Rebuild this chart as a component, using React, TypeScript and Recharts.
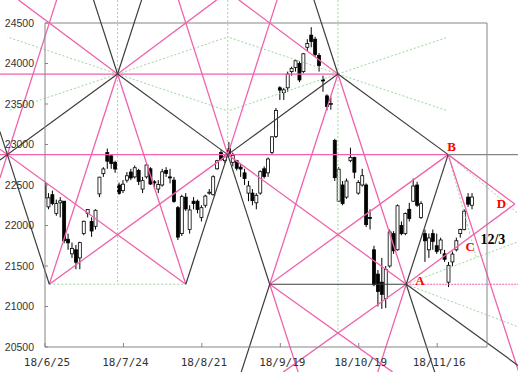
import { ComposedChart, Bar, XAxis, YAxis, ReferenceLine, ReferenceDot } from "recharts";

type Pt = [number, number];

// x axis = trading-day index counted from 18/6/25
const tickIdx = [0, 20, 40, 60, 80, 100];
const tickLabels = ["18/6/25", "18/7/24", "18/8/21", "18/9/19", "18/10/19", "18/11/16"];
const priceTicks = [20500, 21000, 21500, 22000, 22500, 23000, 23500, 24000, 24500];

const opens = [
  22520, 22230, 22380, 22150, 22280, 22300, 21830, 21650, 21700, 21600,
  21900, 22150, 22050, 21990, 22390, 22640, 22900, 22860, 22780, 22500,
  22430, 22560, 22660, 22600, 22680, 22450, 22600, 22700, 22540, 22450,
  22500, 22680, 22600, 22560, 22220, 21900, 22350, 21950, 22300, 22300,
  22100, 22250, 22400, 22380, 22700, 22900, 22800, 22950, 22780, 22800,
  22720, 22650, 22400, 22400, 22280, 22400, 22700, 22650, 22900, 23100,
  23700, 23640, 23700, 23900, 23950, 24000, 23900, 24200, 24350, 24300,
  24100, 23800, 23600, 23500, 23050, 22300, 22500, 22350, 22800, 22840,
  22400, 22500, 22500, 22100, 21700, 21400, 21300, 21100, 21500, 21900,
  21700, 22000, 21900, 22200, 22300, 22500, 22100, 21900, 21700, 21900,
  21750, 21700, 21650, 21300, 21550, 21700, 21900, 21950, 22350, 22250,
];
const highs = [
  22560, 22400, 22430, 22320, 22350, 22300, 21900, 21790, 21760, 21800,
  22060, 22200, 22100, 22200, 22600, 22720, 22950, 22880, 22800, 22530,
  22560, 22660, 22700, 22740, 22700, 22600, 22770, 22720, 22560, 22560,
  22700, 22720, 22700, 22600, 22240, 22380, 22400, 22250, 22350, 22320,
  22250, 22380, 22450, 22620, 22810, 22930, 22880, 23030, 22900, 22810,
  22760, 22700, 22550, 22450, 22400, 22680, 22730, 22840, 23100, 23450,
  23720, 23700, 23900, 23960, 24050, 24030, 24130, 24300, 24448, 24330,
  24130, 23850, 23620, 23590, 23070, 22720, 22550, 22580, 22960, 22850,
  22560, 22700, 22520, 22200, 21750, 21450, 21600, 21500, 21950, 21930,
  22260, 22050, 22160, 22280, 22580, 22540, 22300, 21950, 21900, 21950,
  21900, 21850, 21700, 21550, 21680, 21850, 21960, 22200, 22400, 22400,
];
const lows = [
  22320, 22200, 22250, 22120, 22100, 21780, 21700, 21600, 21460, 21460,
  21880, 22100, 21860, 21950, 22350, 22600, 22700, 22700, 22650, 22380,
  22400, 22530, 22560, 22580, 22500, 22400, 22580, 22500, 22450, 22400,
  22480, 22600, 22520, 22280, 21820, 21870, 22180, 21900, 22200, 22150,
  22050, 22220, 22380, 22370, 22690, 22800, 22770, 22850, 22730, 22680,
  22600, 22500, 22300, 22250, 22200, 22380, 22580, 22600, 22870, 23080,
  23550, 23550, 23650, 23850, 23900, 23770, 23880, 24150, 24200, 24080,
  23900, 23650, 23420, 23430, 22550, 22290, 22250, 22330, 22780, 22580,
  22380, 22480, 21980, 21950, 21250, 21000, 20970, 20980, 21480, 21650,
  21690, 21880, 21880, 22050, 22290, 22230, 22080, 21550, 21600, 21700,
  21650, 21650, 21550, 21240, 21500, 21680, 21850, 21940, 22230, 22200,
];
const closes = [
  22338, 22342, 22272, 22270, 22305, 21812, 21786, 21717, 21547, 21788,
  22052, 22197, 21932, 22188, 22597, 22698, 22794, 22765, 22697, 22397,
  22510, 22614, 22587, 22713, 22545, 22554, 22747, 22512, 22525, 22507,
  22663, 22644, 22598, 22298, 21857, 22356, 22204, 22192, 22270, 22199,
  22220, 22363, 22411, 22602, 22800, 22813, 22848, 22870, 22865, 22707,
  22697, 22581, 22488, 22307, 22373, 22665, 22605, 22821, 23095, 23420,
  23672, 23675, 23870, 23940, 24034, 23797, 24120, 24246, 24271, 24111,
  23976, 23784, 23469, 23506, 22591, 22695, 22271, 22549, 22841, 22658,
  22532, 22615, 22011, 22091, 21269, 21185, 21150, 21457, 21920, 21688,
  22244, 21899, 22148, 22086, 22487, 22250, 22270, 21811, 21846, 21804,
  21680, 21821, 21583, 21508, 21647, 21812, 21952, 22177, 22263, 22351,
];

// pivots of the drawn hexagon figure (day index, price)
const T1L: Pt = [1.1, 24500];
const T1R: Pt = [35.9, 24500];
const T2L: Pt = [57.3, 24500];
const C1: Pt = [18.5, 23870];
const C2: Pt = [74.7, 23870];
const P1: Pt = [-9.6, 22875];
const P3: Pt = [46.6, 22875];
const B: Pt = [102.8, 22875];
const B1L: Pt = [1.1, 21275];
const B1R: Pt = [35.9, 21275];
const B2L: Pt = [57.3, 21275];
const A: Pt = [92.1, 21275];
const L2: Pt = [74.7, 20673];
const D: Pt = [119.8, 22265];
const C_DAY = 110; // 12/3
const UPPER_STAR = 24327;
const LOWER_STAR = 23414;

// where the picture ends, in data units
const EDGE_LEFT = -11.5;
const EDGE_RIGHT = 120.6;
const EDGE_TOP = 24785;
const EDGE_BOTTOM = 20190;

const PINK = "#f062ac";
const INK = "#3c3c3c";
const FRAME = "#858585";
const GREEN = "#9fd49f";

const atPrice = (a: Pt, b: Pt, price: number): Pt => {
  const t = (price - a[1]) / (b[1] - a[1]);
  return [a[0] + t * (b[0] - a[0]), price];
};
const atIdx = (a: Pt, b: Pt, idx: number): Pt => {
  const t = (idx - a[0]) / (b[0] - a[0]);
  return [idx, a[1] + t * (b[1] - a[1])];
};

const bDown: Pt = [B[0] + A[0] - C2[0], B[1] + A[1] - C2[1]];
const C_PT = atIdx(A, D, C_DAY);

const pinkLines: [Pt, Pt][] = [
  [[EDGE_LEFT, C1[1]], C2],
  [[EDGE_LEFT, P1[1]], B],
  [B1L, C1],
  [B1R, C1],
  [B1L, P3],
  [B1R, atIdx(B1R, P1, EDGE_LEFT)],
  [atIdx(T1L, P1, EDGE_LEFT), atPrice(P1, T1L, EDGE_TOP)],
  [P3, atPrice(P3, T1R, EDGE_TOP)],
  [P3, atPrice(P3, T2L, EDGE_TOP)],
  [C1, atPrice(C1, T1L, EDGE_TOP)],
  [C1, atPrice(C1, T1R, EDGE_TOP)],
  [C2, atPrice(C2, T2L, EDGE_TOP)],
  [C2, B2L],
  [C2, A],
  [B2L, B],
  [A, P3],
  [B2L, atPrice(B2L, L2, EDGE_BOTTOM)],
  [A, atPrice(A, L2, EDGE_BOTTOM)],
  [A, atPrice(B, A, EDGE_BOTTOM)],
  [B2L, atPrice(P3, B2L, EDGE_BOTTOM)],
  [B, D],
  [A, D],
  [B, atPrice(B, bDown, EDGE_BOTTOM)],
];

const blackLines: [Pt, Pt][] = [
  [atIdx(C1, P1, EDGE_LEFT), C1],
  [C1, P3],
  [P3, C2],
  [C2, B],
  [atIdx(B1L, P1, EDGE_LEFT), B1L],
  [B1R, P3],
  [P3, B2L],
  [B, A],
  [C1, atPrice(B1L, C1, EDGE_TOP)],
  [C1, atPrice(B1R, C1, EDGE_TOP)],
  [C2, atPrice(A, C2, EDGE_TOP)],
  [B2L, atPrice(C2, B2L, EDGE_BOTTOM)],
  [A, atPrice(C2, A, EDGE_BOTTOM)],
  [A, atIdx(P3, A, EDGE_RIGHT)],
  [B2L, A],
];

const greenLines: [Pt, Pt][] = [
  [B1L, B1R],
  [[C1[0], EDGE_TOP], [C1[0], B1L[1]]],
  [[C2[0], EDGE_TOP], [C2[0], L2[1]]],
  [[P3[0], EDGE_TOP], P3],
  [C1, [P1[0], UPPER_STAR]],
  [C1, [P3[0], UPPER_STAR]],
  [C2, [P3[0], UPPER_STAR]],
  [C2, [B[0], UPPER_STAR]],
  [C1, [P1[0], LOWER_STAR]],
  [C1, [P3[0], LOWER_STAR]],
  [C2, [P3[0], LOWER_STAR]],
  [C2, [B[0], LOWER_STAR]],
  [A, [EDGE_RIGHT, 21800]],
  [A, [EDGE_RIGHT, 20750]],
  [B, [EDGE_RIGHT, 22150]],
  [B, [110, 21600]],
];

const candles = opens.map((o, i) => ({
  i,
  o,
  h: highs[i],
  l: lows[i],
  c: closes[i],
  range: [lows[i], highs[i]],
}));

const Candle = (props: any) => {
  const { x, y, width, height, payload } = props;
  const { o, h, l, c } = payload;
  const toY = (v: number) => y + ((h - v) / (h - l)) * height;
  const mid = x + width / 2;
  const top = toY(Math.max(o, c));
  const bot = toY(Math.min(o, c));
  return (
    <g>
      <line x1={mid} x2={mid} y1={y} y2={y + height} stroke="#000" strokeWidth={1} />
      <rect
        x={x}
        y={top}
        width={width}
        height={Math.max(bot - top, 1)}
        fill={c >= o ? "#fff" : "#000"}
        stroke="#000"
        strokeWidth={0.8}
      />
    </g>
  );
};

const XTick = (props: any) => {
  const { x, y, payload } = props;
  const k = tickIdx.indexOf(payload.value);
  return (
    <g>
      <line x1={x} x2={x} y1={y} y2={y - 4} stroke={FRAME} />
      <text x={x + 2} y={y + 19} textAnchor="middle" fontSize={11} fontFamily="DejaVu Sans Mono" fill="#333">
        {tickLabels[k]}
      </text>
    </g>
  );
};

const YTickLeft = (props: any) => {
  const { x, y, payload } = props;
  return (
    <g>
      <line x1={x} x2={x + 3} y1={y} y2={y} stroke={FRAME} />
      <text x={x - 11} y={y} dy="0.35em" textAnchor="end" fontSize={10.5} fontFamily="Liberation Sans" fill="#333">
        {payload.value}
      </text>
    </g>
  );
};

const YTickRight = (props: any) => {
  const { x, y } = props;
  return <line x1={x} x2={x - 3} y1={y} y2={y} stroke={FRAME} />;
};

const seg = (s: [Pt, Pt]) => [
  { x: s[0][0], y: s[0][1] },
  { x: s[1][0], y: s[1][1] },
];

const tag = (text: string, dx: number, dy: number, color: string, size: number) => (p: any) => (
  <text
    x={p.cx + dx}
    y={p.cy + dy}
    fontSize={size}
    fontWeight="bold"
    fontFamily="Liberation Serif"
    fill={color}
  >
    {text}
  </text>
);

export default function App() {
  return (
    <div style={{ position: "absolute", left: 0, top: 0, width: 518, height: 372, background: "#fff" }}>
      <ComposedChart width={518} height={372} data={candles} margin={{ top: 23, right: 30, bottom: 0, left: 0 }}>
        <XAxis
          dataKey="i"
          type="number"
          domain={[0, 112.7]}
          ticks={tickIdx}
          interval={0}
          height={25}
          tickSize={0}
          tickMargin={0}
          tick={XTick}
          axisLine={{ stroke: FRAME }}
          allowDataOverflow
        />
        <YAxis
          domain={[20500, 24500]}
          ticks={priceTicks}
          interval={0}
          width={45}
          tickSize={0}
          tickMargin={0}
          tick={YTickLeft}
          axisLine={{ stroke: FRAME }}
        />
        <YAxis
          yAxisId="right"
          orientation="right"
          domain={[20500, 24500]}
          ticks={priceTicks}
          interval={0}
          width={1}
          tickSize={0}
          tickMargin={0}
          tick={YTickRight}
          axisLine={{ stroke: FRAME }}
        />
        <ReferenceLine y={24500} stroke={FRAME} />
        {greenLines.map((s, k) => (
          <ReferenceLine
            key={`g${k}`}
            segment={seg(s)}
            stroke={GREEN}
            strokeWidth={1}
            strokeDasharray="2 2"
            ifOverflow="visible"
          />
        ))}
        <ReferenceLine
          segment={seg([A, [EDGE_RIGHT, A[1]]])}
          stroke={PINK}
          strokeWidth={1.2}
          strokeDasharray="2 1"
          ifOverflow="visible"
        />
        {pinkLines.map((s, k) => (
          <ReferenceLine key={`p${k}`} segment={seg(s)} stroke={PINK} strokeWidth={1.3} ifOverflow="visible" />
        ))}
        {blackLines.map((s, k) => (
          <ReferenceLine key={`b${k}`} segment={seg(s)} stroke={INK} strokeWidth={1.2} ifOverflow="visible" />
        ))}
        <ReferenceLine segment={seg([B, [EDGE_RIGHT, B[1]]])} stroke={FRAME} strokeWidth={1.3} ifOverflow="visible" />
        <Bar dataKey="range" barSize={3} shape={Candle} isAnimationActive={false} />
        <ReferenceDot x={A[0]} y={A[1]} r={0} ifOverflow="visible" shape={tag("A", 9, 1, "#f00", 13)} />
        <ReferenceDot x={B[0]} y={B[1]} r={0} ifOverflow="visible" shape={tag("B", -1, -4, "#f00", 13)} />
        <ReferenceDot x={D[0]} y={D[1]} r={0} ifOverflow="visible" shape={tag("D", -18, 4, "#f00", 13)} />
        <ReferenceDot x={C_PT[0]} y={C_PT[1]} r={0} ifOverflow="visible" shape={tag("C", -11, 19, "#f00", 13)} />
        <ReferenceDot x={C_PT[0]} y={C_PT[1]} r={0} ifOverflow="visible" shape={tag("12/3", 4, 12, "#000", 14)} />
      </ComposedChart>
    </div>
  );
}
